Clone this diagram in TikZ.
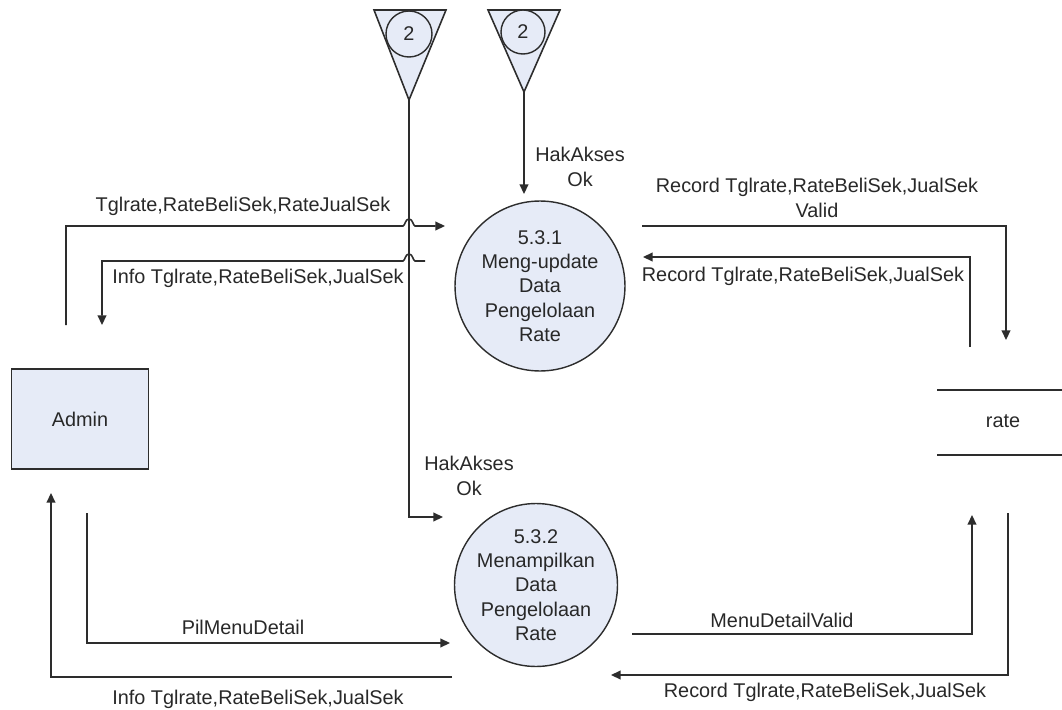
\documentclass[tikz,border=0pt]{standalone}
\usepackage{fontspec}
\setmainfont{Liberation Sans}
\usetikzlibrary{arrows.meta}

\definecolor{linegray}{RGB}{45,45,45}
\definecolor{textgray}{RGB}{40,40,40}
\definecolor{bubble}{RGB}{230,235,247}

\begin{document}
\begin{tikzpicture}[x=0.02cm,y=-0.02cm,
    flow/.style={draw=linegray,line width=0.9pt},
    arr/.style={flow,-{Triangle[length=5.5pt,width=5pt]}},
    proc/.style={circle,draw=linegray,fill=bubble,line width=0.8pt,
        align=center,inner sep=0pt,text=textgray},
    lbl/.style={text=textgray,align=center,inner sep=0pt},
    every node/.append style={font=\fontsize{11.3pt}{13.8pt}\selectfont}]
    \useasboundingbox (0,0) rectangle (1062,710);

    % Off-page connectors at the top
    \draw[flow,fill=bubble] (374,10) -- (446,10) -- (409,100) -- cycle;
    \node[proc,minimum size=0.92cm] (offa) at (409,34) {2};
    \coordinate (tipa) at (409,100);
    \draw[flow,fill=bubble] (488,10) -- (560,10) -- (524,92) -- cycle;
    \node[proc,minimum size=0.88cm] (offb) at (523,32) {2};
    \coordinate (tipb) at (524,92);

    % Processes
    \node[proc,minimum size=3.4cm] (upd) at (540,286)
        {5.3.1\\Meng-update\\Data\\Pengelolaan\\Rate};
    \node[proc,minimum size=3.26cm] (show) at (536,585)
        {5.3.2\\Menampilkan\\Data\\Pengelolaan\\Rate};

    % External entity
    \node[draw=linegray,fill=bubble,line width=0.8pt,text=textgray,
        minimum width=2.74cm,minimum height=2cm] (admin) at (80,419) {Admin};

    % Data store
    \draw[flow] (937,390) -- (1062,390);
    \draw[flow] (937,455) -- (1062,455);
    \node[lbl] (rate) at (1003,421) {rate};

    % Ends of the flows
    \coordinate (inupd) at (524,194);
    \coordinate (inshow) at (443,517);
    \coordinate (adout) at (66,325);
    \coordinate (adin) at (102,325);
    \coordinate (adout2) at (87,513);
    \coordinate (adin2) at (51,493);
    \coordinate (stin) at (1006,340);
    \coordinate (stout) at (970,347);
    \coordinate (stin2) at (972,515);
    \coordinate (stout2) at (1008,513);

    % HakAkses into 5.3.1
    \draw[arr] (tipb) -- (inupd);
    \node[lbl] (hak1) at (580,167) {HakAkses\\Ok};

    % HakAkses into 5.3.2
    \draw[arr] (tipa) |- (inshow);
    \node[lbl] (hak2) at (469,476) {HakAkses\\Ok};

    % Admin to 5.3.1, hopping over the vertical line
    \draw[arr] (adout) |- (403,226) .. controls (405,226) and (405,219) .. (409,219)
        .. controls (413,219) and (413,226) .. (415,226) -- (445,226);
    \node[lbl] (l1) at (243,206) {Tglrate,RateBeliSek,RateJualSek};

    % 5.3.1 back to Admin, hopping over the vertical line
    \draw[arr] (425,261) -- (415,261) .. controls (413,261) and (413,254) .. (409,254)
        .. controls (405,254) and (405,261) .. (403,261) -| (adin);
    \node[lbl] (l2) at (258,278) {Info Tglrate,RateBeliSek,JualSek};

    % 5.3.1 to rate
    \draw[arr] (642,226) -| (stin);
    \node[lbl] (l3) at (817,198) {Record Tglrate,RateBeliSek,JualSek\\Valid};

    % rate to 5.3.1
    \draw[arr] (stout) |- (643,257);
    \node[lbl] (l4) at (803,276) {Record Tglrate,RateBeliSek,JualSek};

    % Admin to 5.3.2
    \draw[arr] (adout2) |- (450,643);
    \node[lbl] (l5) at (243,627) {PilMenuDetail};

    % 5.3.2 back to Admin
    \draw[arr] (452,677) -| (adin2);
    \node[lbl] (l6) at (258,699) {Info Tglrate,RateBeliSek,JualSek};

    % 5.3.2 to rate
    \draw[arr] (632,634) -| (stin2);
    \node[lbl] (l7) at (782,620) {MenuDetailValid};

    % rate to 5.3.2
    \draw[arr] (stout2) |- (611,675);
    \node[lbl] (l8) at (825,692) {Record Tglrate,RateBeliSek,JualSek};
\end{tikzpicture}
\end{document}
